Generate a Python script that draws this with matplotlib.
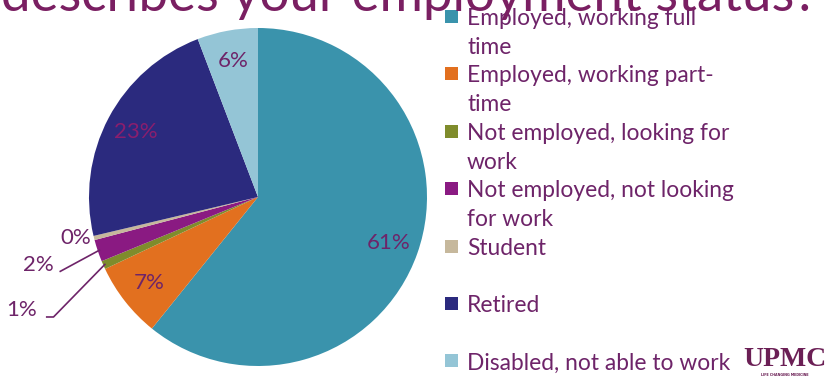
import matplotlib
matplotlib.use("Agg")
import matplotlib.pyplot as plt
import numpy as np
from matplotlib.patches import Rectangle

# Survey answers, in the order the pie is drawn (clockwise from 12 o'clock)
categories = [
    "Employed, working full time",
    "Employed, working part-time",
    "Not employed, looking for work",
    "Not employed, not looking for work",
    "Student",
    "Retired",
    "Disabled, not able to work",
]
legend_lines = [
    ["Employed, working full", "time"],
    ["Employed, working part-", "time"],
    ["Not employed, looking for", "work"],
    ["Not employed, not looking", "for work"],
    ["Student"],
    ["Retired"],
    ["Disabled, not able to work"],
]
shares = [60.8, 7.2, 0.8, 2.1, 0.4, 22.9, 5.8]
colors = ["#3A93AC", "#E2701F", "#7F8C2C", "#8A1A82", "#C6B89C", "#2B2A7E", "#94C5D6"]
title = "describes your employment status?"

TEXT = "#6E2469"
FONT = "Lato"
W, H = 836, 378

fig = plt.figure(figsize=(W / 100, H / 100), dpi=100)
fig.patch.set_facecolor("white")


def fx(px):
    return px / W


def fy(py):
    return 1 - py / H


# Pie
cx, cy, r = 258, 197, 169
ax = fig.add_axes([fx(cx - r), fy(cy + r), 2 * r / W, 2 * r / H])
wedges, _ = ax.pie(shares, colors=colors, startangle=90, counterclock=False,
                   radius=1, wedgeprops=dict(linewidth=0))
ax.set_xlim(-1, 1)
ax.set_ylim(-1, 1)
ax.axis("off")

# Percent labels: inside for large slices, outside with leaders for thin ones
outside = {
    2: dict(text=(-1.40, -0.67), line=[(-1.25, -0.71), (-1.21, -0.71)]),
    3: dict(text=(-1.30, -0.40), line=[(-1.17, -0.44)]),
    4: dict(text=(-1.08, -0.24), line=None),
}
label_colors = {5: "#8A1E6E"}
for i, (w, v) in enumerate(zip(wedges, shares)):
    mid = np.deg2rad((w.theta1 + w.theta2) / 2)
    label = f"{v:.0f}%"
    col = label_colors.get(i, TEXT)
    if i in outside:
        spec = outside[i]
        tx, ty = spec["text"]
        ax.text(tx, ty, label, ha="center", va="center", fontsize=16,
                family=FONT, color=col)
        if spec["line"]:
            pts = spec["line"] + [(0.99 * np.cos(mid), 0.99 * np.sin(mid))]
            xs, ys = zip(*pts)
            ax.plot(xs, ys, color=TEXT, lw=1.2, clip_on=False)
    else:
        ax.text(0.82 * np.cos(mid), 0.82 * np.sin(mid), label, ha="center",
                va="center", fontsize=16, family=FONT, color=col)

# Legend
step = 57.4
for i, (lines, c) in enumerate(zip(legend_lines, colors)):
    base = 25 + step * i
    fig.patches.append(Rectangle((fx(445), fy(base - 2)), 13 / W, 13 / H,
                                 transform=fig.transFigure, facecolor=c,
                                 edgecolor="none"))
    for j, line in enumerate(lines):
        fig.text(fx(467), fy(base + 29 * j), line, ha="left", va="baseline",
                 fontsize=16.4, family=FONT, color=TEXT)

# Slide title (cut off at the top)
fig.text(fx(818), fy(11), title, ha="right", va="baseline", fontsize=38,
         family=FONT, color="#7A1F62")

# Logo
fig.text(fx(785), fy(366), "UPMC", ha="center", va="baseline", fontsize=20,
         family="Liberation Serif", weight="bold", color="#6B1F55")
fig.text(fx(785), fy(376), "LIFE CHANGING MEDICINE", ha="center",
         va="baseline", fontsize=2.4, family="DejaVu Sans", weight="bold",
         color="#6B1F55")

fig.savefig("out.png", dpi=100, facecolor="white")
